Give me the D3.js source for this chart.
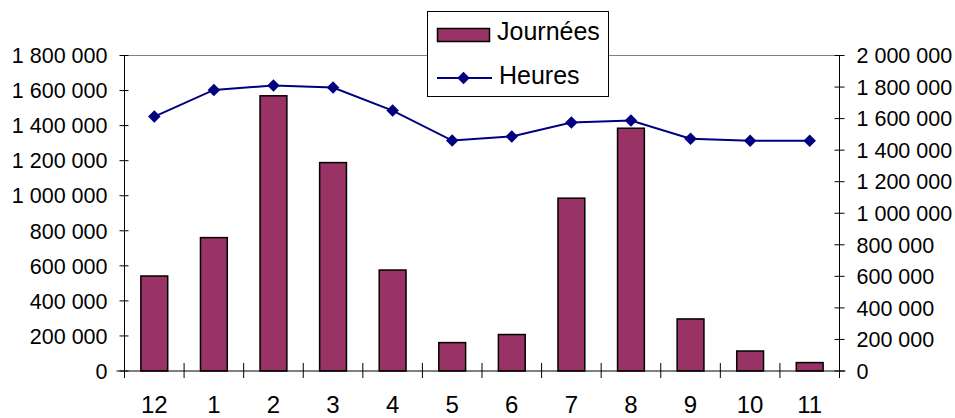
<!DOCTYPE html>
<html><head><meta charset="utf-8">
<script src="https://cdn.jsdelivr.net/npm/d3@7"></script>
<style>body{margin:0;background:#fff}svg{display:block}text{font-family:"Liberation Sans",Arial,sans-serif;fill:#000}</style>
</head><body><svg id="c" width="955" height="418"></svg>
<script>
const categories = ["12","1","2","3","4","5","6","7","8","9","10","11"];
const journees = [542000, 761000, 1570000, 1189000, 576000, 162000, 208000, 986000, 1385000, 297000, 114000, 48000];
const heures = [1613000, 1782000, 1810000, 1797000, 1651000, 1461000, 1487000, 1575000, 1588000, 1472000, 1459000, 1459000];
const leftTicks = [0,200000,400000,600000,800000,1000000,1200000,1400000,1600000,1800000];
const rightTicks = [0,200000,400000,600000,800000,1000000,1200000,1400000,1600000,1800000,2000000];
const seriesNames = ["Journées","Heures"];

const svg = d3.select("#c");
const L = 124.5, R = 839.5, T = 55.5, B = 371;
const x = d3.scaleBand().domain(categories).range([L, R]).paddingInner(0.55).paddingOuter(0.275);
const xb = d3.scaleBand().domain(categories).range([L, R]);
const yL = d3.scaleLinear().domain([0, 1800000]).range([B, T]);
const yR = d3.scaleLinear().domain([0, 2000000]).range([B, T]);
const fmt = v => d3.format(",")(v).replace(/,/g, " ");

// top border
svg.append("line").attr("x1", L).attr("x2", R).attr("y1", T).attr("y2", T).attr("stroke", "#808080").attr("stroke-width", 1);

// bars
svg.append("g").selectAll("rect").data(journees).join("rect")
  .attr("x", (d,i) => x(categories[i]))
  .attr("y", d => yL(d))
  .attr("width", x.bandwidth())
  .attr("height", d => B - yL(d))
  .attr("fill", "#993366").attr("stroke", "#000").attr("stroke-width", 1.5);

// left axis
const gl = svg.append("g").attr("transform", `translate(${L},0)`);
gl.append("line").attr("y1", T).attr("y2", B).attr("stroke", "#000");
gl.selectAll("line.t").data(leftTicks).join("line").attr("class","t")
  .attr("x1", -5).attr("x2", 4).attr("y1", d => yL(d)).attr("y2", d => yL(d)).attr("stroke", "#000");
gl.selectAll("text").data(leftTicks).join("text")
  .attr("x", -17).attr("y", d => yL(d)).attr("dy", "0.36em").attr("text-anchor", "end")
  .style("font-size", "21.5px").text(fmt);

// right axis
const gr = svg.append("g").attr("transform", `translate(${R},0)`);
gr.append("line").attr("y1", T).attr("y2", B).attr("stroke", "#000");
gr.selectAll("line.t").data(rightTicks).join("line").attr("class","t")
  .attr("x1", -5).attr("x2", 5).attr("y1", d => yR(d)).attr("y2", d => yR(d)).attr("stroke", "#000");
gr.selectAll("text").data(rightTicks).join("text")
  .attr("x", 17).attr("y", d => yR(d)).attr("dy", "0.36em").attr("text-anchor", "start")
  .style("font-size", "21.5px").text(fmt);

// x axis
const gx = svg.append("g");
gx.append("line").attr("x1", L - 8).attr("x2", R + 6).attr("y1", B).attr("y2", B).attr("stroke", "#000");
const bounds = categories.map(c => xb(c)).concat([R]);
gx.selectAll("line.t").data(bounds).join("line").attr("class","t")
  .attr("x1", d => d).attr("x2", d => d).attr("y1", B - 8).attr("y2", B + 7).attr("stroke", "#000");
gx.selectAll("text").data(categories).join("text")
  .attr("x", d => xb(d) + xb.bandwidth()/2).attr("y", 412.5).attr("text-anchor", "middle")
  .style("font-size", "24px").text(d => d);

// line
const lineGen = d3.line().x((d,i) => xb(categories[i]) + xb.bandwidth()/2).y(d => yR(d));
svg.append("path").datum(heures).attr("d", lineGen).attr("fill", "none").attr("stroke", "#000080").attr("stroke-width", 2);
const diamond = d3.symbol().type(d3.symbolDiamond2).size(100);
svg.append("g").selectAll("path").data(heures).join("path")
  .attr("transform", (d,i) => `translate(${xb(categories[i]) + xb.bandwidth()/2},${yR(d)})`)
  .attr("d", diamond).attr("fill", "#000080");

// legend
const lg = svg.append("g");
lg.append("rect").attr("x", 427.5).attr("y", 11.5).attr("width", 181).attr("height", 85).attr("fill", "#fff").attr("stroke", "#000");
lg.append("rect").attr("x", 437.5).attr("y", 28.5).attr("width", 52).attr("height", 13).attr("fill", "#993366").attr("stroke", "#000").attr("stroke-width", 1.5);
lg.append("text").attr("x", 497).attr("y", 40).style("font-size", "25px").text(seriesNames[0]);
lg.append("line").attr("x1", 437).attr("x2", 492).attr("y1", 78).attr("y2", 78).attr("stroke", "#000080").attr("stroke-width", 2);
lg.append("path").attr("transform", "translate(463.5,78)").attr("d", diamond).attr("fill", "#000080");
lg.append("text").attr("x", 499).attr("y", 83.5).style("font-size", "25px").text(seriesNames[1]);
</script></body></html>
